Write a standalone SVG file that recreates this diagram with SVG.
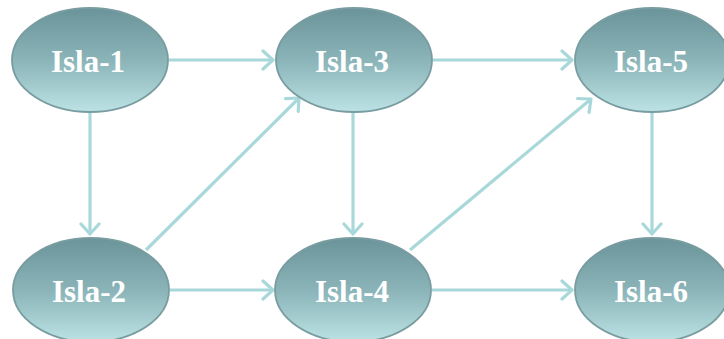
<svg xmlns="http://www.w3.org/2000/svg" width="724" height="339" viewBox="0 0 724 339">
  <defs>
    <linearGradient id="bubble" x1="0" y1="0" x2="0" y2="1">
      <stop offset="0" stop-color="#6a9499"/>
      <stop offset="0.5" stop-color="#8ab4b8"/>
      <stop offset="1" stop-color="#bce2e4"/>
    </linearGradient>
    <marker id="chev" markerUnits="userSpaceOnUse" markerWidth="24" markerHeight="24" viewBox="-12 -12 24 24" refX="0" refY="0" orient="auto">
      <path d="M-10,-9 L0,0 L-10,9" fill="none" stroke="#a9d8db" stroke-width="3.2" stroke-linecap="round" stroke-linejoin="round"/>
    </marker>
  </defs>
  <style>
    .node ellipse { fill: url(#bubble); stroke: #789ca0; stroke-width: 1.8; }
    .node text { font-family: "Liberation Serif", "Times New Roman", serif; font-weight: bold; font-size: 31px; fill: #ffffff; text-anchor: middle; }
    .edge { stroke: #a9d8db; stroke-width: 3.2; fill: none; marker-end: url(#chev); }
  </style>

  <g id="connectors">
    <line class="edge" x1="169" y1="60" x2="273" y2="60"/>
    <line class="edge" x1="90" y1="113" x2="90" y2="234"/>
    <line class="edge" x1="146" y1="250" x2="299" y2="98"/>
    <line class="edge" x1="170" y1="290" x2="273" y2="290"/>
    <line class="edge" x1="353" y1="113" x2="353" y2="234"/>
    <line class="edge" x1="433" y1="60" x2="572" y2="60"/>
    <line class="edge" x1="410" y1="250" x2="591" y2="99"/>
    <line class="edge" x1="652" y1="113" x2="652" y2="234"/>
    <line class="edge" x1="432" y1="290" x2="572" y2="290"/>
  </g>

  <g id="isla-1" class="node">
    <ellipse cx="90" cy="60" rx="78" ry="52"/>
    <text x="88" y="72">Isla-1</text>
  </g>
  <g id="isla-2" class="node">
    <ellipse cx="91" cy="290" rx="78" ry="52"/>
    <text x="89" y="302">Isla-2</text>
  </g>
  <g id="isla-3" class="node">
    <ellipse cx="354" cy="60" rx="78" ry="52"/>
    <text x="352" y="72">Isla-3</text>
  </g>
  <g id="isla-4" class="node">
    <ellipse cx="353" cy="290" rx="78" ry="52"/>
    <text x="352" y="302">Isla-4</text>
  </g>
  <g id="isla-5" class="node">
    <ellipse cx="652" cy="60" rx="77" ry="52"/>
    <text x="651" y="72">Isla-5</text>
  </g>
  <g id="isla-6" class="node">
    <ellipse cx="652" cy="290" rx="77" ry="52"/>
    <text x="651" y="302">Isla-6</text>
  </g>
</svg>
